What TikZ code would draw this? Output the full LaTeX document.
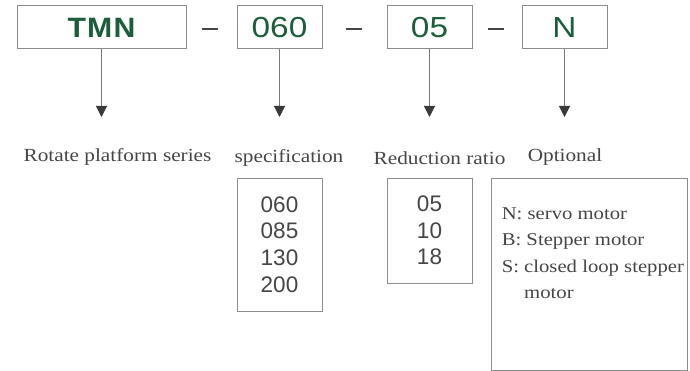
\documentclass[tikz,border=0pt]{standalone}
\usepackage{fontspec}
\usetikzlibrary{arrows.meta}
\newfontfamily\tsans[FakeStretch=1.15]{Liberation Sans}
\newfontfamily\tsansb[FakeStretch=1.08,LetterSpace=4]{Liberation Sans Bold}
\newfontfamily\dsans{Liberation Sans}
\newfontfamily\tserif[FakeStretch=1.15]{Liberation Serif}
\definecolor{codegreen}{HTML}{1B5E3B}
\definecolor{boxgray}{HTML}{8C8C8C}
\definecolor{txtgray}{HTML}{454545}
\definecolor{arrgray}{HTML}{7A7A7A}
\definecolor{headgray}{HTML}{3A3A3A}
\tikzset{
  codebox/.style={draw=boxgray, line width=1pt, minimum height=43pt, inner sep=0pt, text=codegreen},
  listbox/.style={draw=boxgray, line width=0.9pt, inner sep=0pt, text=txtgray, align=center},
  lbl/.style={inner sep=0pt, text=txtgray, font=\tserif\fontsize{18.5}{22}\selectfont},
  dashline/.style={draw=txtgray, line width=1.6pt},
  pointer/.style={draw=arrgray, line width=1.1pt, -{Triangle[length=11pt,width=11pt,color=headgray,fill=headgray]}}
}
\begin{document}
\begin{tikzpicture}[x=1pt,y=-1pt]
\useasboundingbox (0,0) rectangle (690,371);
% top code boxes
\node[codebox, minimum width=169pt, font=\tsansb\fontsize{28}{30}\selectfont] (tmn) at (101.5,27.5) {TMN};
\node[codebox, minimum width=85pt, font=\tsans\fontsize{29}{30}\selectfont] (c060) at (279.5,27.5) {060};
\node[codebox, minimum width=85pt, font=\tsans\fontsize{29}{30}\selectfont] (c05) at (429.5,27.5) {05};
\node[codebox, minimum width=85pt, font=\tsans\fontsize{29}{30}\selectfont] (cN) at (564.5,27.5) {N};
% dashes
\draw[dashline] (202,29) -- (218,29);
\draw[dashline] (346,29) -- (362,29);
\draw[dashline] (488,29) -- (504,29);
% arrow ends
\coordinate (e1) at (101.5,117);
\coordinate (e2) at (279.5,117);
\coordinate (e3) at (429.5,117);
\coordinate (e4) at (564.5,117);
\draw[pointer] (tmn.south) -- (e1);
\draw[pointer] (c060.south) -- (e2);
\draw[pointer] (c05.south) -- (e3);
\draw[pointer] (cN.south) -- (e4);
% labels
\node[lbl] (l1) at (117.5,157) {Rotate platform series};
\node[lbl] (l2) at (289,158) {specification};
\node[lbl] (l3) at (439.5,158) {Reduction ratio};
\node[lbl] (l4) at (565,157) {Optional};
% list boxes
\node[listbox, minimum width=85pt, minimum height=133pt, font=\dsans\fontsize{22.5}{26.7}\selectfont] (spec) at (279.5,244.5) {060\\085\\130\\200};
\node[listbox, minimum width=85pt, minimum height=105pt, font=\dsans\fontsize{22.5}{26.7}\selectfont] (ratio) at (429.5,230.5) {05\\10\\18};
\node[listbox, minimum width=196pt, minimum height=192pt] (opt) at (589,274) {};
\node[lbl, anchor=north west, align=left, font=\tserif\fontsize{18}{26.3}\selectfont] (opttext) at ([xshift=11pt,yshift=-30pt]opt.north west)
  {N: servo motor\\B: Stepper motor\\S: closed loop stepper\\\hphantom{S: }motor};
\end{tikzpicture}
\end{document}
